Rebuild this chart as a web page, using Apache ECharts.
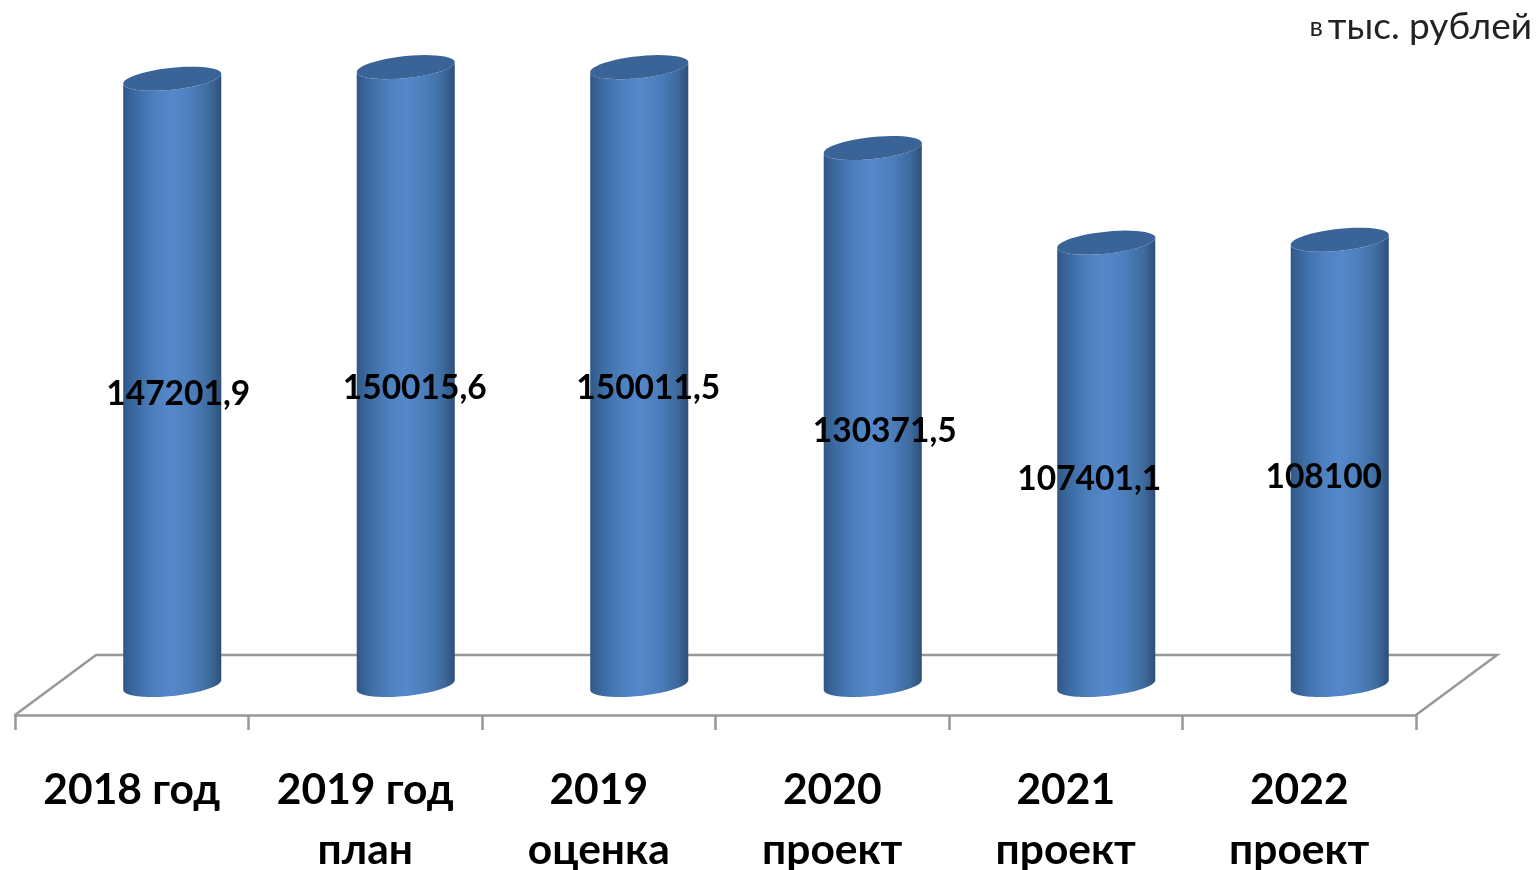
<!DOCTYPE html>
<html><head><meta charset="utf-8">
<style>html,body{margin:0;padding:0;background:#fff}#c{width:1540px;height:870px}</style>
<script src="https://cdn.jsdelivr.net/npm/echarts@6/dist/echarts.min.js"></script>
</head><body><div id="c"></div>
<script>
const categories = ['2018 год', '2019 год\nплан', '2019\nоценка', '2020\nпроект', '2021\nпроект', '2022\nпроект'];
const values = [147201.9, 150015.6, 150011.5, 130371.5, 107401.1, 108100];
const unitPrefix = 'в';
const unitText = 'тыс. рублей';

// chart styling and 3D look
const depthX = 81, depthY = 60;
const labelNudgeX = [6, 9, 9, 12, -17, -16];
const labelNudgeY = [12, 12, 12, 15, 15, 15];
const font = 'Lato, "Open Sans", sans-serif';

function ellipsePts(cx, cy, a, b, shear, from, to) {
  const pts = [];
  const n = 48;
  for (let k = 0; k <= n; k++) {
    const t = from + (to - from) * k / n;
    pts.push([cx + a * Math.cos(t), cy + b * Math.sin(t) + shear * a * Math.cos(t)]);
  }
  return pts;
}

const bodyFill = new echarts.graphic.LinearGradient(0, 0, 1, 0, [
  {offset: 0, color: '#2f5887'},
  {offset: 0.14, color: '#3e6da5'},
  {offset: 0.34, color: '#4e81c0'},
  {offset: 0.5, color: '#5588cb'},
  {offset: 0.7, color: '#4c7ebb'},
  {offset: 0.88, color: '#3e6b9f'},
  {offset: 1, color: '#2d5078'}
]);

function renderCylinder(params, api) {
  const i = api.value(0), v = api.value(1);
  const band = api.size([1, 0])[0];
  const a = band * 0.21, b = 11, shear = -0.1;
  const top = api.coord([i, v]), base = api.coord([i, 0]);
  const cx = top[0] + depthX / 2;
  const cyTop = top[1] - depthY / 2, cyBase = base[1] - depthY / 2;
  const body = ellipsePts(cx, cyTop, a, b, shear, Math.PI, 0)
    .concat(ellipsePts(cx, cyBase, a, b, shear, 0, Math.PI));
  const text = String(v).replace('.', ',');
  return {
    type: 'group',
    children: [
      {type: 'polygon', shape: {points: body}, style: {fill: bodyFill}},
      {type: 'polygon', shape: {points: ellipsePts(cx, cyTop, a, b, shear, 0, 2 * Math.PI)}, style: {fill: '#3a6397'}},
      {type: 'text', z2: 10, style: {
        text: text,
        x: cx + labelNudgeX[i],
        y: (cyTop + cyBase) / 2 + labelNudgeY[i],
        align: 'center', verticalAlign: 'middle',
        font: 'bold 33.5px ' + font, fill: '#000'
      }}
    ]
  };
}

function renderFloor(params, api) {
  const g = params.coordSys;
  const yb = g.y + g.height, x0 = g.x, x1 = g.x + g.width;
  return {
    type: 'polyline',
    shape: {points: [[x0, yb], [x0 + depthX, yb - depthY], [x1 + depthX, yb - depthY], [x1, yb]]},
    style: {stroke: '#989898', lineWidth: 2.5, fill: null}
  };
}

const chart = echarts.init(document.getElementById('c'));
chart.setOption({
  animation: false,
  backgroundColor: '#fff',
  title: {
    text: '{a|' + unitPrefix + '} {b|' + unitText + '}',
    right: 3, top: 4,
    textStyle: {fontWeight: 'normal', rich: {
      a: {fontFamily: font, fontSize: 27, fontWeight: 'normal', color: '#222'},
      b: {fontFamily: font, fontSize: 37, fontWeight: 'normal', color: '#222'}
    }}
  },
  grid: {left: 15, width: 1401, top: 56, height: 659, containLabel: false, outerBoundsMode: 'none'},
  xAxis: {
    type: 'category', data: categories,
    axisLine: {lineStyle: {color: '#989898', width: 2.5}},
    axisTick: {show: true, length: 15, lineStyle: {color: '#989898', width: 2.5}},
    axisLabel: {fontFamily: font, fontWeight: 'bold', fontSize: 42.5, color: '#000', margin: 45, lineHeight: 60, interval: 0, verticalAlign: 'top'}
  },
  yAxis: {type: 'value', min: 0, max: 160000, interval: 40000, show: false},
  series: [
    {type: 'custom', clip: false, silent: true, z: 1, renderItem: renderFloor, data: [[0, 0]], encode: {x: 0, y: 1}},
    {type: 'custom', clip: false, z: 3, renderItem: renderCylinder,
     data: values.map((v, i) => [i, v]), encode: {x: 0, y: 1}}
  ]
});
</script></body></html>
